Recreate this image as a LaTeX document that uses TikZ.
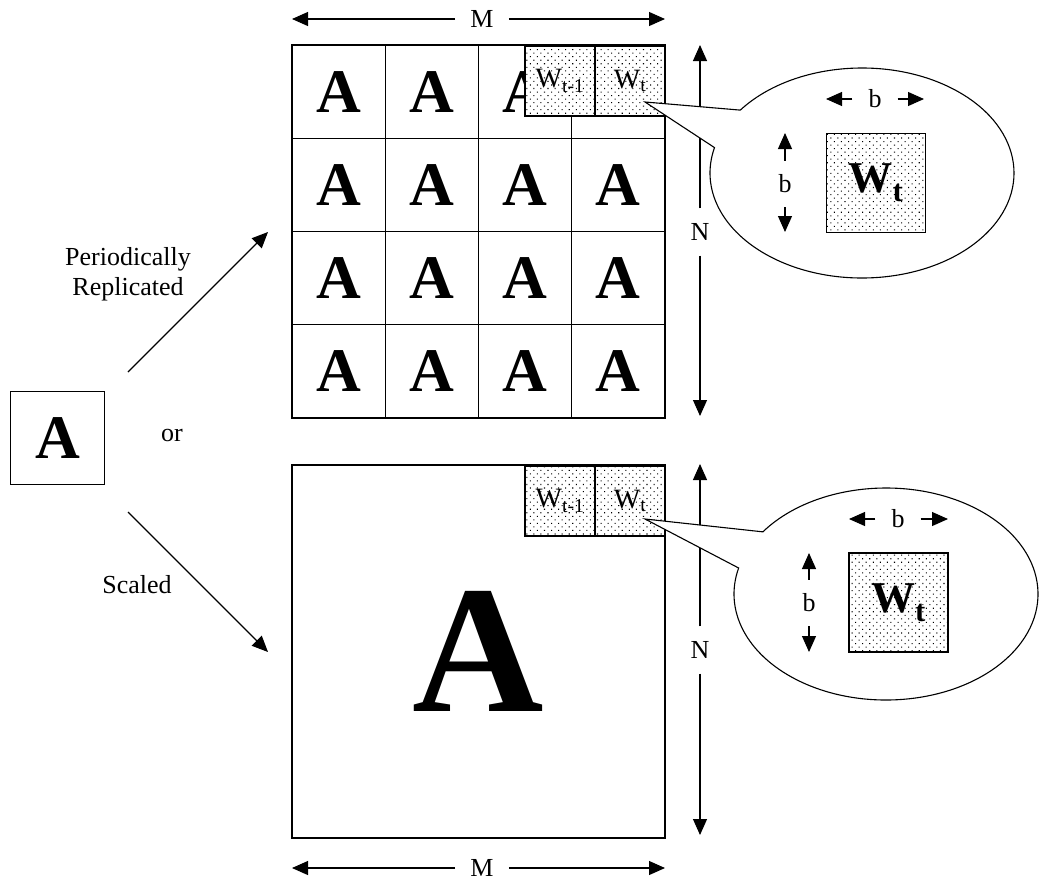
\documentclass[tikz,border=0pt]{standalone}
\usepackage{fontspec}
\setmainfont{Liberation Serif}
\usepackage{tikz}
\usetikzlibrary{calc,arrows.meta,patterns.meta}

\tikzset{
  line/.style={line width=1.1pt},
  arr/.style={line width=1.1pt, -{Triangle[length=16pt,width=14pt]}},
  lab/.style={font=\fontsize{26}{30}\selectfont},
  wlab/.style={font=\fontsize{28}{30}\selectfont},
  cell/.style={draw, line width=1.1pt, minimum size=93.25pt, inner sep=0pt,
               font=\fontsize{62}{64}\selectfont\bfseries},
  wblock/.style={draw, line width=1.1pt, inner sep=0pt,
                 preaction={fill=white},
                 pattern={Dots[distance=5pt,radius=0.75pt,angle=45]}},
  wbig/.style={font=\fontsize{44}{46}\selectfont\bfseries},
}

\begin{document}
\begin{tikzpicture}[x=1pt,y=-1pt]
  \useasboundingbox (0,0) rectangle (1040,884);

  % 元のブロック
  \node[cell] (Abox) at (57.5,438) {A};
  \node[lab] (or) at (172,435) {or};

  % 斜めの矢印とラベル
  \coordinate (up0) at (128,372);
  \coordinate (up1) at (268,232);
  \coordinate (dn0) at (128,512);
  \coordinate (dn1) at (268,652);
  \draw[arr] (up0) -- (up1);
  \draw[arr] (dn0) -- (dn1);
  \node[lab, align=center] (rep) at (128,274) {Periodically\\Replicated};
  \node[lab] (scl) at (137,585) {Scaled};

  % 上: 周期的に複製 (右上のセルはWブロックの下に隠れる)
  \foreach \i in {0,...,3}
    \foreach \j in {0,...,3}
      \node[cell] (g\i\j) at ({338.6+93.25*\i},{91.6+93.25*\j})
        {\ifnum\i\j=30 \else A\fi};
  \node[wblock, minimum width=70pt, minimum height=70pt, wlab] (wa1) at (560,81) {W\textsubscript{t-1}};
  \node[wblock, minimum width=70pt, minimum height=70pt, wlab] (wb1) at (630,81) {W\textsubscript{t}};

  % 上: M と N
  \node[lab, inner xsep=15pt] (mtop) at (482,19) {M};
  \coordinate (mt0) at (292,19);
  \coordinate (mt1) at (665,19);
  \draw[arr] (mtop) -- (mt0);
  \draw[arr] (mtop) -- (mt1);
  \node[lab, inner ysep=15pt] (ntop) at (700,232) {N};
  \coordinate (nt0) at (700,45);
  \coordinate (nt1) at (700,416);
  \draw[arr] (ntop) -- (nt0);
  \draw[arr] (ntop) -- (nt1);

  % 上: 吹き出し
  \coordinate (c1) at (862,173);
  \coordinate (t1) at (645,102);
  \draw[line, fill=white]
    (t1) -- ($(c1)+(216.8:152 and 105)$)
    arc[start angle=216.8, end angle=554, x radius=152, y radius=105] -- cycle;
  \node[wblock, minimum size=99pt, wbig] (wz1) at (876,183) {W\textsubscript{t}};
  \node[lab, inner xsep=16pt] (bh1) at (875,99) {b};
  \coordinate (bl1) at (826,99);
  \coordinate (br1) at (924,99);
  \draw[arr] (bh1) -- (bl1);
  \draw[arr] (bh1) -- (br1);
  \node[lab, inner ysep=14pt] (bv1) at (785,184) {b};
  \coordinate (bu1) at (785,133);
  \coordinate (bd1) at (785,232);
  \draw[arr] (bv1) -- (bu1);
  \draw[arr] (bv1) -- (bd1);

  % 下: 拡大
  \node[draw, line, minimum size=373pt, inner sep=0pt,
        font=\fontsize{182}{184}\selectfont\bfseries] (big) at (478.5,651.5) {A};
  \node[wblock, minimum width=70pt, minimum height=70pt, wlab] (wa2) at (560,501) {W\textsubscript{t-1}};
  \node[wblock, minimum width=70pt, minimum height=70pt, wlab] (wb2) at (630,501) {W\textsubscript{t}};

  % 下: M と N
  \node[lab, inner xsep=15pt] (mbot) at (482,868) {M};
  \coordinate (mb0) at (292,868);
  \coordinate (mb1) at (665,868);
  \draw[arr] (mbot) -- (mb0);
  \draw[arr] (mbot) -- (mb1);
  \node[lab, inner ysep=15pt] (nbot) at (700,650) {N};
  \coordinate (nb0) at (700,464);
  \coordinate (nb1) at (700,835);
  \draw[arr] (nbot) -- (nb0);
  \draw[arr] (nbot) -- (nb1);

  % 下: 吹き出し
  \coordinate (c2) at (886,594);
  \coordinate (t2) at (645,519);
  \draw[line, fill=white]
    (t2) -- ($(c2)+(215.9:152 and 106)$)
    arc[start angle=215.9, end angle=554.2, x radius=152, y radius=106] -- cycle;
  \node[wblock, minimum size=99pt, wbig] (wz2) at (898.5,602.5) {W\textsubscript{t}};
  \node[lab, inner xsep=16pt] (bh2) at (898,519) {b};
  \coordinate (bl2) at (849,519);
  \coordinate (br2) at (948,519);
  \draw[arr] (bh2) -- (bl2);
  \draw[arr] (bh2) -- (br2);
  \node[lab, inner ysep=14pt] (bv2) at (809,603) {b};
  \coordinate (bu2) at (809,553);
  \coordinate (bd2) at (809,652);
  \draw[arr] (bv2) -- (bu2);
  \draw[arr] (bv2) -- (bd2);
\end{tikzpicture}
\end{document}
